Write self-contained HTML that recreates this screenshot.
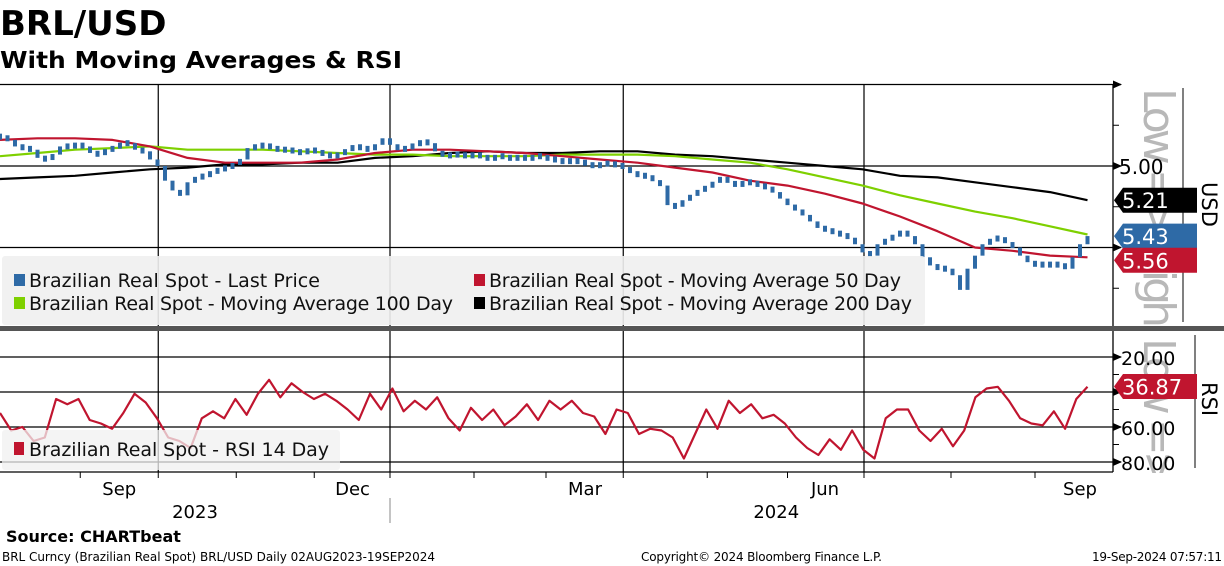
<!DOCTYPE html>
<html><head><meta charset="utf-8"><style>
html,body{margin:0;padding:0;background:#fff;}
svg{display:block;font-family:"DejaVu Sans","Liberation Sans",sans-serif;}
</style></head><body>
<svg id="chart" width="1224" height="566" viewBox="0 0 1224 566" xmlns="http://www.w3.org/2000/svg">
<defs>
<clipPath id="clipTop"><rect x="1114" y="84" width="70" height="242"/></clipPath>
<clipPath id="clipRsi"><rect x="1114" y="333" width="80" height="140"/></clipPath>
</defs>
<text x="0" y="35" font-size="34" font-weight="bold">BRL/USD</text>
<text x="0" y="68" font-size="23" font-weight="bold" textLength="402" lengthAdjust="spacingAndGlyphs">With Moving Averages &amp; RSI</text>
<g id="grid"></g>
<g id="series"></g>
<g id="overlay"></g>
<text x="6" y="542" font-size="16" font-weight="bold">Source: CHARTbeat</text>
<text x="2" y="561" font-size="12" textLength="433">BRL Curncy (Brazilian Real Spot) BRL/USD  Daily 02AUG2023-19SEP2024</text>
<text x="641" y="561" font-size="12" textLength="241">Copyright© 2024 Bloomberg Finance L.P.</text>
<text x="1222" y="561" font-size="12" text-anchor="end" textLength="130">19-Sep-2024 07:57:11</text>
</svg>
<script>
const price = [4.82,4.84,4.88,4.89,4.90,4.95,4.96,4.93,4.88,4.88,
4.87,4.88,4.92,4.93,4.90,4.89,4.86,4.86,4.90,4.91,
4.96,5.00,5.09,5.15,5.18,5.10,5.07,5.06,5.04,5.02,
5.01,4.99,4.96,4.89,4.88,4.87,4.89,4.90,4.90,4.91,
4.92,4.90,4.91,4.93,4.94,4.93,4.90,4.88,4.89,4.90,
4.87,4.83,4.87,4.90,4.89,4.87,4.85,4.86,4.91,4.94,
4.93,4.93,4.94,4.93,4.94,4.96,4.94,4.94,4.96,4.94,
4.96,4.94,4.94,4.96,4.96,4.98,4.96,4.98,4.98,5.01,
4.98,4.99,4.99,5.01,5.04,5.06,5.06,5.09,5.12,5.24,
5.25,5.21,5.18,5.15,5.13,5.10,5.07,5.10,5.12,5.10,
5.10,5.12,5.13,5.16,5.20,5.24,5.27,5.30,5.34,5.38,
5.39,5.41,5.42,5.44,5.48,5.53,5.55,5.48,5.45,5.43,
5.40,5.43,5.48,5.56,5.61,5.63,5.63,5.67,5.76,5.63,
5.55,5.48,5.45,5.44,5.47,5.50,5.55,5.59,5.61,5.60,
5.61,5.60,5.63,5.56,5.48,5.43];
const ma50 = [4.84,4.83,4.83,4.84,4.88,4.95,4.98,4.98,4.98,4.96,4.92,4.90,4.90,4.91,4.92,4.94,4.96,4.98,5.01,5.04,5.09,5.12,5.17,5.23,5.31,5.40,5.50,5.52,5.55,5.56];
const ma100 = [4.94,4.92,4.90,4.89,4.88,4.90,4.90,4.90,4.91,4.92,4.93,4.93,4.94,4.94,4.94,4.93,4.93,4.93,4.94,4.96,4.98,5.02,5.07,5.12,5.18,5.23,5.28,5.32,5.37,5.42];
const ma200 = [5.08,5.07,5.06,5.04,5.02,5.01,4.99,4.99,4.98,4.98,4.95,4.94,4.92,4.91,4.92,4.92,4.91,4.91,4.93,4.94,4.96,4.98,5.00,5.02,5.06,5.07,5.10,5.13,5.16,5.21];
const maStep = 5;
const rsi = [52,62,60,68,66,44,47,44,56,58,61,52,41,46,55,66,68,72,55,51,55,44,53,41,33,43,35,40,44,41,45,50,56,41,50,38,51,45,50,43,55,62,49,56,50,59,54,47,56,45,50,45,52,54,64,50,52,64,61,62,66,78,64,50,61,45,52,47,55,53,58,66,72,76,67,73,62,73,78,55,50,50,62,68,61,71,62,43,38,37,45,55,58,59,51,61,44,37];
const priceGrid = [4.5,5.0,5.5];
const priceMinor = [4.75,5.25,5.75];
const priceTickLabels = ["5.00"];
const rsiGrid = [20,40,60,80];
const rsiTickLabels = ["20.00","60.00","80.00"];
const rsiLabelVals = [20,60,80];
const monthTicks = [10.7,21.1,31.5,41.9,52,63.2,72.8,83.1,94.3,105,115.2,126.8,138];
const quarterLines = [21.1,52,83.1,115.2];
const monthLabels = ["Sep","Dec","Mar","Jun","Sep"];
const monthLabelAt = [15.9,47,78,110,144];
const yearLabels = ["2023","2024"];
const yearLabelAt = [26,103.5];
const yearDividerAt = [52];
const lastRsi = "36.87";

const NS = "http://www.w3.org/2000/svg";
const step = 1087.5 / (price.length - 1);
const xIdx = i => i * step;
const yP = v => 166 + (v - 5) * 163;
const yR = v => 357 + (v - 20) * 1.75;
const AX = 1113;
function mk(tag, attrs, parent, txt) {
  const e = document.createElementNS(NS, tag);
  for (const k in attrs) e.setAttribute(k, attrs[k]);
  if (txt !== undefined) e.textContent = txt;
  parent.appendChild(e);
  return e;
}
const grid = document.getElementById('grid');
const series = document.getElementById('series');
const ov = document.getElementById('overlay');

const wt = mk('g', {'clip-path': 'url(#clipTop)'}, grid);
let e = mk('text', {x: 0, y: 0, 'font-size': 44, fill: '#b8b8b8', transform: 'translate(1144,88) rotate(90)', textLength: 240}, wt, 'Low => High');


const wg = mk('g', {'clip-path': 'url(#clipRsi)'}, grid);
e = mk('text', {x: 0, y: 0, 'font-size': 44, fill: '#b8b8b8', transform: 'translate(1144,338) rotate(90)', textLength: 240}, wg, 'Low => High');



priceGrid.forEach(v => {
  const l = mk('line', {x1: 0, x2: AX + 8, y1: yP(v), y2: yP(v), stroke: '#000', 'stroke-width': 1.3}, grid);
  
  
  const a = mk('polygon', {points: `${AX},${yP(v)-4} ${AX+9},${yP(v)} ${AX},${yP(v)+4}`, fill: '#000'}, grid);
  
  
});
priceMinor.forEach(v => {
  const l = mk('line', {x1: AX, x2: AX + 6, y1: yP(v), y2: yP(v), stroke: '#000', 'stroke-width': 1}, grid);
  
  
});
const tl = mk('text', {x: AX + 6, y: yP(5) + 8, 'font-size': 20}, grid, priceTickLabels[0]);



rsiGrid.forEach(v => {
  const l = mk('line', {x1: 0, x2: AX + 8, y1: yR(v), y2: yR(v), stroke: '#000', 'stroke-width': 1.3}, grid);
  
  
  const a = mk('polygon', {points: `${AX},${yR(v)-4} ${AX+9},${yR(v)} ${AX},${yR(v)+4}`, fill: '#000'}, grid);
  
  
});
[30,50,70].forEach(v => {
  const l = mk('line', {x1: AX, x2: AX + 6, y1: yR(v), y2: yR(v), stroke: '#000', 'stroke-width': 1}, grid);
  
  
});
rsiLabelVals.forEach((v, k) => {
  const t = mk('text', {x: AX + 8, y: yR(v) + 8, 'font-size': 19}, grid, rsiTickLabels[k]);
  
  
});
quarterLines.forEach(i => {
  const l = mk('line', {x1: xIdx(i), x2: xIdx(i), y1: 84, y2: 472, stroke: '#000', 'stroke-width': 1.2}, grid);
  
  
});
e = mk('line', {x1: AX, x2: AX, y1: 84, y2: 472, stroke: '#000', 'stroke-width': 1.3}, grid);


e = mk('line', {x1: 0, x2: AX, y1: 472, y2: 472, stroke: '#000', 'stroke-width': 1.3}, grid);


e = mk('line', {x1: 1183, x2: 1183, y1: 88, y2: 322, stroke: '#000', 'stroke-width': 1}, grid);


e = mk('line', {x1: 1195, x2: 1195, y1: 335, y2: 468, stroke: '#000', 'stroke-width': 1}, grid);


monthTicks.forEach(i => {
  const l = mk('line', {x1: xIdx(i), x2: xIdx(i), y1: 472, y2: 478, stroke: '#000', 'stroke-width': 1}, grid);
  
  
});
monthLabels.forEach((m, k) => {
  const t = mk('text', {x: xIdx(monthLabelAt[k]), y: 495, 'font-size': 18, 'text-anchor': 'middle'}, grid, m);
  
  
});
yearLabels.forEach((m, k) => {
  const t = mk('text', {x: xIdx(yearLabelAt[k]), y: 518, 'font-size': 18, 'text-anchor': 'middle'}, grid, m);
  
  
});
yearDividerAt.forEach(i => {
  const l = mk('line', {x1: xIdx(i), x2: xIdx(i), y1: 498, y2: 523, stroke: '#888', 'stroke-width': 1}, grid);
  
  
});

function line(arr, stepIdx, yf, color, name, w) {
  const pts = arr.map((v, k) => `${xIdx(k * stepIdx).toFixed(1)},${yf(v).toFixed(1)}`).join(' ');
  const p = mk('polyline', {points: pts, fill: 'none', stroke: color, 'stroke-width': w, 'stroke-linejoin': 'round'}, series);
  
  
}
line(ma200, maStep, yP, '#000000', 'ma200-line', 2.2);
line(ma100, maStep, yP, '#7ed000', 'ma100-line', 2.2);
line(ma50, maStep, yP, '#c0152f', 'ma50-line', 2.2);
price.forEach((v, i) => {
  const prev = i ? price[i - 1] : v;
  let y1 = Math.min(yP(prev), yP(v)), y2 = Math.max(yP(prev), yP(v));
  if (y2 - y1 < 6) { const c = (y1 + y2) / 2; y1 = c - 3; y2 = c + 3; }
  const r = mk('rect', {x: xIdx(i) - 2, y: y1, width: 4, height: y2 - y1, fill: '#2e6aa6'}, series);
  
  
});
const rstep = 1087.5 / (rsi.length - 1);
const rp = mk('polyline', {points: rsi.map((v, k) => `${(k * rstep).toFixed(1)},${yR(v).toFixed(1)}`).join(' '), fill: 'none', stroke: '#c0152f', 'stroke-width': 2.2, 'stroke-linejoin': 'round'}, series);



e = mk('rect', {x: 0, y: 326, width: 1224, height: 5, fill: '#555'}, ov);


e = mk('rect', {x: 2, y: 256, width: 923, height: 69, fill: '#f0f0f0', 'fill-opacity': 0.9, rx: 3}, ov);


const leg = [
  ['#2e6aa6', 14, 287, 'Brazilian Real Spot - Last Price', 291, 'legend-last-price'],
  ['#c0152f', 474, 287, 'Brazilian Real Spot - Moving Average 50 Day', 412, 'legend-ma50'],
  ['#7ed000', 14, 310, 'Brazilian Real Spot - Moving Average 100 Day', 424, 'legend-ma100'],
  ['#000000', 474, 310, 'Brazilian Real Spot - Moving Average 200 Day', 423, 'legend-ma200']
];
leg.forEach(l => {
  const g = mk('g', {}, ov);
  
  
  mk('rect', {x: l[1], y: l[2] - 13, width: 11, height: 12, fill: l[0]}, g);
  mk('text', {x: l[1] + 15, y: l[2], 'font-size': 19, textLength: l[4], fill: '#111'}, g, l[3]);
});
e = mk('rect', {x: 2, y: 430, width: 338, height: 40, fill: '#f0f0f0', 'fill-opacity': 0.75, rx: 3}, ov);


const rg = mk('g', {}, ov);


mk('rect', {x: 14, y: 442, width: 10, height: 13, fill: '#c0152f'}, rg);
mk('text', {x: 29, y: 456, 'font-size': 19, textLength: 300, fill: '#111'}, rg, 'Brazilian Real Spot - RSI 14 Day');

function flag(yc, color, txt, name) {
  const g = mk('g', {}, ov);
  
  
  mk('polygon', {points: `${AX+1},${yc} ${AX+10},${yc-12.5} 1197,${yc-12.5} 1197,${yc+12.5} ${AX+10},${yc+12.5}`, fill: color}, g);
  mk('text', {x: 1122, y: yc + 8, 'font-size': 21, fill: '#fff'}, g, txt);
}
flag(yP(ma200[ma200.length - 1]), '#000', ma200[ma200.length - 1].toFixed(2), 'ma200-value-flag');
flag(yP(price[price.length - 1]), '#2e6aa6', price[price.length - 1].toFixed(2), 'price-value-flag');
flag(yP(ma50[ma50.length - 1]) + 3, '#c0152f', ma50[ma50.length - 1].toFixed(2), 'ma50-value-flag');
flag(yR(36.87), '#c0152f', lastRsi, 'rsi-value-flag');

e = mk('text', {x: 0, y: 0, 'font-size': 21, transform: 'translate(1202,182) rotate(90)'}, ov, 'USD');


e = mk('text', {x: 0, y: 0, 'font-size': 21, transform: 'translate(1202,382) rotate(90)'}, ov, 'RSI');


</script>
</body></html>
